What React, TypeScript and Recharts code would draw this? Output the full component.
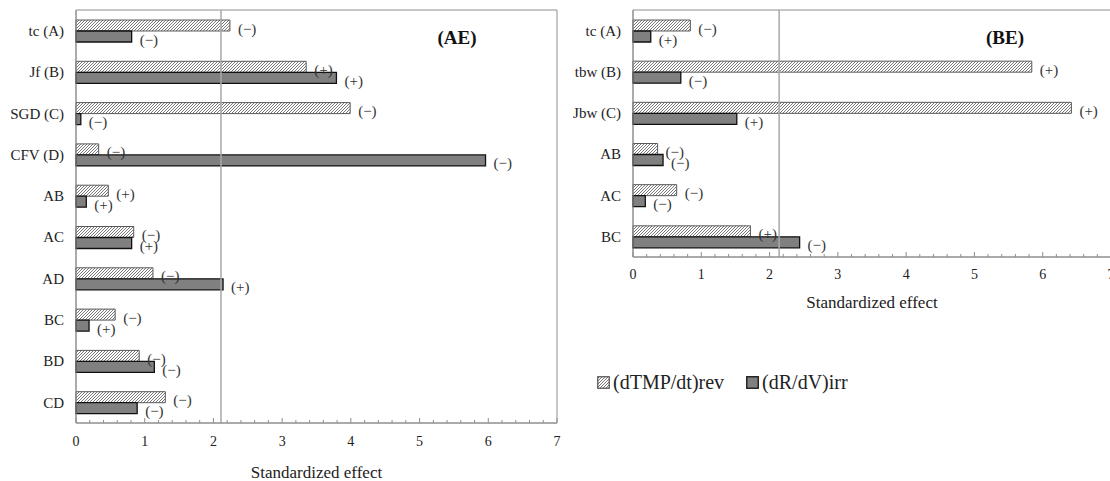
import { BarChart, Bar, XAxis, YAxis, ReferenceLine, ReferenceArea, LabelList } from "recharts";

// AE panel: factors and standardized effects
const aeFactors = ["tc (A)", "Jf (B)", "SGD (C)", "CFV (D)", "AB", "AC", "AD", "BC", "BD", "CD"];
const aeRev = [2.24, 3.35, 3.99, 0.33, 0.47, 0.84, 1.12, 0.57, 0.92, 1.3];
const aeIrr = [0.81, 3.79, 0.07, 5.96, 0.15, 0.81, 2.14, 0.19, 1.14, 0.89];
const aeRevSign = ["(−)", "(+)", "(−)", "(−)", "(+)", "(−)", "(−)", "(−)", "(−)", "(−)"];
const aeIrrSign = ["(−)", "(+)", "(−)", "(−)", "(+)", "(+)", "(+)", "(+)", "(−)", "(−)"];
const aeLimit = 2.11;

// BE panel
const beFactors = ["tc (A)", "tbw (B)", "Jbw (C)", "AB", "AC", "BC"];
const beRev = [0.84, 5.84, 6.42, 0.36, 0.64, 1.72];
const beIrr = [0.26, 0.7, 1.52, 0.44, 0.18, 2.44];
const beRevSign = ["(−)", "(+)", "(+)", "(−)", "(−)", "(+)"];
const beIrrSign = ["(+)", "(−)", "(+)", "(−)", "(−)", "(−)"];
const beLimit = 2.14;

const seriesNames = ["(dTMP/dt)rev", "(dR/dV)irr"];
const axisTitle = "Standardized effect";
const xMax = 7;

const FONT = '"Liberation Serif", "Times New Roman", serif';
const FRAME = "#8e8e8e";
const SOLID = "#808080";

// minor ticks every 0.2, labels only on whole numbers
const xTicks = Array.from({ length: xMax * 5 + 1 }, (_, i) => Math.round(i * 2) / 10);

function buildRows(factors: string[], rev: number[], irr: number[], revSign: string[], irrSign: string[]) {
  return factors.map((name, i) => ({ name, rev: rev[i], irr: irr[i], revSign: revSign[i], irrSign: irrSign[i] }));
}

function makeTick(labelDy: number) {
  return (props: any) => {
    const { x, y, payload } = props;
    const v = payload.value;
    const major = Math.abs(v - Math.round(v)) < 1e-6;
    return (
      <g>
        <line x1={x} x2={x} y1={y} y2={y - (major ? 5 : 3)} stroke={FRAME} />
        {major && (
          <text x={x} y={y + labelDy} textAnchor="middle" fontSize={14} fontFamily={FONT} fill="#222">
            {Math.round(v)}
          </text>
        )}
      </g>
    );
  };
}

function SignLabel(props: any) {
  const vb = props.viewBox ?? {};
  const x = (vb.x ?? props.x) + (vb.width ?? props.width) + 8;
  const y = (vb.y ?? props.y) + (vb.height ?? props.height) / 2 + 3;
  return (
    <text x={x} y={y} dominantBaseline="central" fontSize={15} fontFamily={FONT} fill="#333">
      {props.value}
    </text>
  );
}

function HatchDefs({ id }: { id: string }) {
  return (
    <defs>
      <pattern id={id} patternUnits="userSpaceOnUse" width={3} height={3}>
        <rect width={3} height={3} fill="#fff" />
        <path d="M0,3 L3,0 M-1,1 L1,-1 M2,4 L4,2" stroke="#555" strokeWidth={0.8} />
      </pattern>
    </defs>
  );
}

function EffectPanel(props: {
  rows: any[];
  limit: number;
  width: number;
  height: number;
  yWidth: number;
  rightMargin: number;
  labelDy: number;
  titleOffset: number;
  hatchId: string;
}) {
  const { rows, limit, width, height, yWidth, rightMargin, labelDy, titleOffset, hatchId } = props;
  return (
    <BarChart
      width={width}
      height={height}
      data={rows}
      layout="vertical"
      margin={{ top: 10, right: rightMargin, bottom: 0, left: 0 }}
      barSize={11}
      barGap={0}
    >
      <HatchDefs id={hatchId} />
      <XAxis
        type="number"
        domain={[0, xMax]}
        ticks={xTicks}
        interval={0}
        height={58}
        tickSize={0}
        tickMargin={0}
        tick={makeTick(labelDy)}
        axisLine={{ stroke: FRAME }}
        label={{
          value: axisTitle,
          position: "insideTop",
          offset: titleOffset,
          fontSize: 17,
          fontFamily: FONT,
          fill: "#222",
        }}
      />
      <YAxis
        type="category"
        dataKey="name"
        width={yWidth}
        tickSize={0}
        tickMargin={12}
        tickLine={false}
        axisLine={{ stroke: FRAME }}
        tick={{ fontSize: 15, fontFamily: FONT, fill: "#222" }}
      />
      <ReferenceArea x1={0} x2={xMax} fill="none" stroke={FRAME} strokeWidth={1} ifOverflow="visible" />
      <ReferenceLine x={limit} stroke="#a8a8a8" strokeWidth={1.5} />
      <Bar dataKey="rev" name={seriesNames[0]} fill={`url(#${hatchId})`} stroke="#5a5a5a" strokeWidth={1} isAnimationActive={false}>
        <LabelList dataKey="revSign" content={SignLabel} />
      </Bar>
      <Bar dataKey="irr" name={seriesNames[1]} fill={SOLID} stroke="#111" strokeWidth={1.3} isAnimationActive={false}>
        <LabelList dataKey="irrSign" content={SignLabel} />
      </Bar>
    </BarChart>
  );
}

function PanelTitle({ text, x, y }: { text: string; x: number; y: number }) {
  return (
    <div
      style={{
        position: "absolute",
        left: x,
        top: y,
        transform: "translate(-50%, -50%)",
        fontFamily: FONT,
        fontWeight: "bold",
        fontSize: 19,
        lineHeight: 1,
        color: "#111",
        whiteSpace: "nowrap",
      }}
    >
      {text}
    </div>
  );
}

function Swatch({ hatched }: { hatched: boolean }) {
  return (
    <svg width={13} height={13} style={{ display: "block" }}>
      {hatched && <HatchDefs id="legendHatch" />}
      <rect
        x={0.75}
        y={0.75}
        width={11.5}
        height={11.5}
        fill={hatched ? "url(#legendHatch)" : SOLID}
        stroke={hatched ? "#5a5a5a" : "#111"}
        strokeWidth={1.3}
      />
    </svg>
  );
}

export default function App() {
  const aeRows = buildRows(aeFactors, aeRev, aeIrr, aeRevSign, aeIrrSign);
  const beRows = buildRows(beFactors, beRev, beIrr, beRevSign, beIrrSign);

  return (
    <div
      style={{
        position: "fixed",
        left: 0,
        top: 0,
        width: 1110,
        height: 481,
        overflow: "hidden",
        background: "#fff",
      }}
    >
      <div style={{ position: "absolute", left: 0, top: 0 }}>
        <EffectPanel
          rows={aeRows}
          limit={aeLimit}
          width={600}
          height={481}
          yWidth={76}
          rightMargin={43}
          labelDy={23}
          titleOffset={43}
          hatchId="hatchAE"
        />
      </div>
      <div style={{ position: "absolute", left: 560, top: 0 }}>
        <EffectPanel
          rows={beRows}
          limit={beLimit}
          width={600}
          height={315}
          yWidth={73}
          rightMargin={49}
          labelDy={22}
          titleOffset={39}
          hatchId="hatchBE"
        />
      </div>
      <PanelTitle text="(AE)" x={457} y={37} />
      <PanelTitle text="(BE)" x={1005} y={37} />
      <div
        style={{
          position: "absolute",
          left: 597,
          top: 371,
          display: "flex",
          alignItems: "center",
          fontFamily: FONT,
          fontSize: 20,
          color: "#222",
          whiteSpace: "nowrap",
        }}
      >
        <Swatch hatched />
        <span style={{ marginLeft: 3, marginRight: 22 }}>{seriesNames[0]}</span>
        <Swatch hatched={false} />
        <span style={{ marginLeft: 3 }}>{seriesNames[1]}</span>
      </div>
    </div>
  );
}
